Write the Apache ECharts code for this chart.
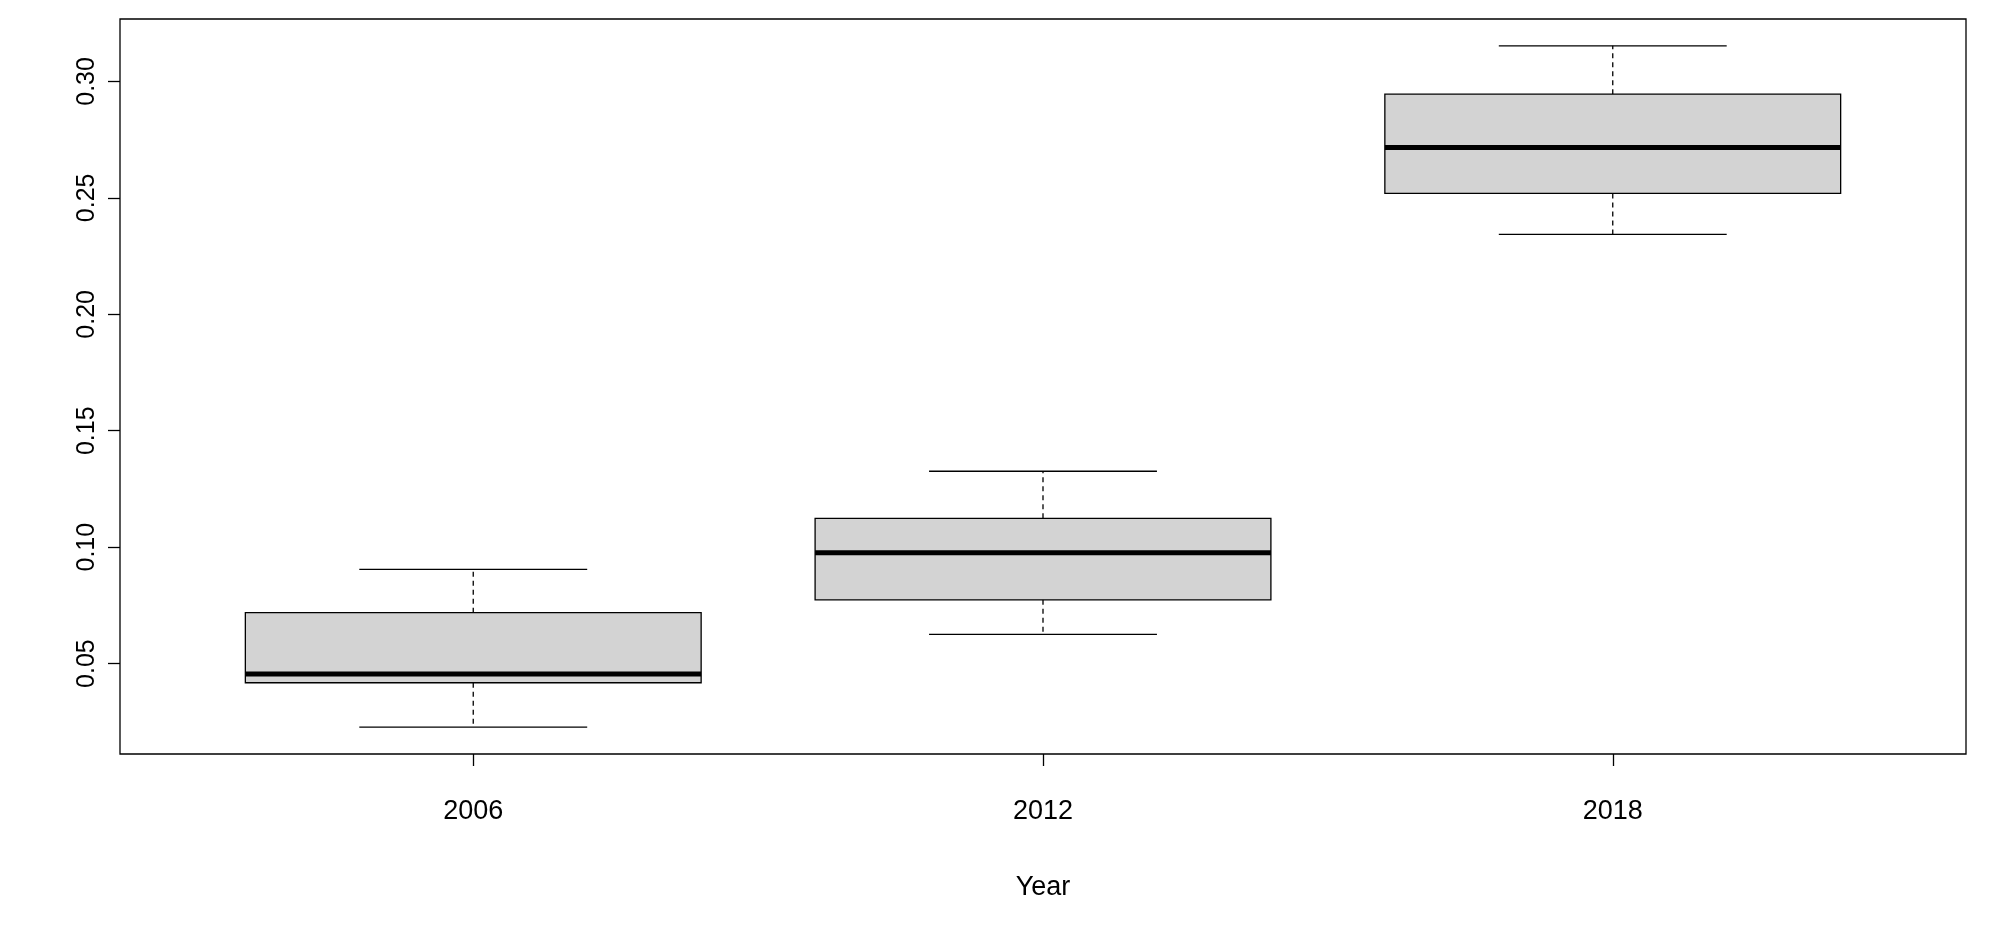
<!DOCTYPE html>
<html>
<head>
<meta charset="utf-8">
<script src="https://cdn.jsdelivr.net/npm/echarts@6/dist/echarts.min.js"></script>
<style>html,body{margin:0;padding:0;background:#fff}#chart{width:2000px;height:930px}</style>
</head>
<body>
<div id="chart"></div>
<script>
// data
const years = ['2006', '2012', '2018']
const lowWhisker = [0.0227, 0.0626, 0.2343]
const lowerQuart = [0.0418, 0.0774, 0.2519]
const medians = [0.0456, 0.0976, 0.2716]
const upperQuart = [0.0719, 0.1124, 0.2945]
const highWhisker = [0.0905, 0.1326, 0.3153]
const yTicks = [0.05, 0.10, 0.15, 0.20, 0.25, 0.30]
const xTicks = [1, 2, 3]

// R style: boxes sit at 1..n on a numeric axis
const rows = years.map((y, i) => [i + 1, lowWhisker[i], lowerQuart[i], medians[i], upperQuart[i], highWhisker[i]])

const font = 'Liberation Sans'
const chart = echarts.init(document.getElementById('chart'))

function renderBox(params, api) {
    const x = api.value(0)
    const pLo = api.coord([x, api.value(1)])
    const pQ1 = api.coord([x, api.value(2)])
    const pMed = api.coord([x, api.value(3)])
    const pQ3 = api.coord([x, api.value(4)])
    const pHi = api.coord([x, api.value(5)])
    const bw = api.size([0.8, 0])[0]
    const cx = pMed[0]
    const line = {stroke: '#000', lineWidth: 1.3}
    const dashed = {stroke: '#000', lineWidth: 1.3, lineDash: [5, 4]}
    return {
        type: 'group',
        children: [
            {type: 'line', shape: {x1: cx, y1: pQ3[1], x2: cx, y2: pHi[1]}, style: dashed},
            {type: 'line', shape: {x1: cx, y1: pQ1[1], x2: cx, y2: pLo[1]}, style: dashed},
            {type: 'line', shape: {x1: cx - bw / 4, y1: pHi[1], x2: cx + bw / 4, y2: pHi[1]}, style: line},
            {type: 'line', shape: {x1: cx - bw / 4, y1: pLo[1], x2: cx + bw / 4, y2: pLo[1]}, style: line},
            {type: 'rect', shape: {x: cx - bw / 2, y: pQ3[1], width: bw, height: pQ1[1] - pQ3[1]},
                style: {fill: '#d3d3d3', stroke: '#000', lineWidth: 1.3}},
            {type: 'line', shape: {x1: cx - bw / 2, y1: pMed[1], x2: cx + bw / 2, y2: pMed[1]},
                style: {stroke: '#000', lineWidth: 5}}
        ]
    }
}

chart.setOption({
    animation: false,
    grid: {left: 120, right: 34, top: 19, bottom: 176, show: true, borderColor: '#000', borderWidth: 1.3},
    xAxis: {
        type: 'value',
        min: 0.38,
        max: 3.62,
        name: 'Year',
        nameLocation: 'middle',
        nameGap: 120,
        nameTextStyle: {fontFamily: font, fontSize: 27, color: '#000'},
        splitLine: {show: false},
        axisLine: {show: false},
        axisTick: {show: true, length: 12, customValues: xTicks, lineStyle: {color: '#000', width: 1.3}},
        axisLabel: {
            fontFamily: font, fontSize: 27, color: '#000', margin: 44,
            customValues: xTicks,
            formatter: v => years[Math.round(v) - 1] || ''
        }
    },
    yAxis: {
        type: 'value',
        min: 0.0112,
        max: 0.3268,
        splitLine: {show: false},
        axisLine: {show: false},
        axisTick: {show: true, length: 12, customValues: yTicks, lineStyle: {color: '#000', width: 1.3}},
        axisLabel: {
            fontFamily: font, fontSize: 25, color: '#000', rotate: 90, margin: 20,
            customValues: yTicks,
            formatter: v => v.toFixed(2)
        }
    },
    series: [{
        type: 'custom',
        renderItem: renderBox,
        encode: {x: 0, y: [1, 2, 3, 4, 5]},
        data: rows
    }]
})
</script>
</body>
</html>
